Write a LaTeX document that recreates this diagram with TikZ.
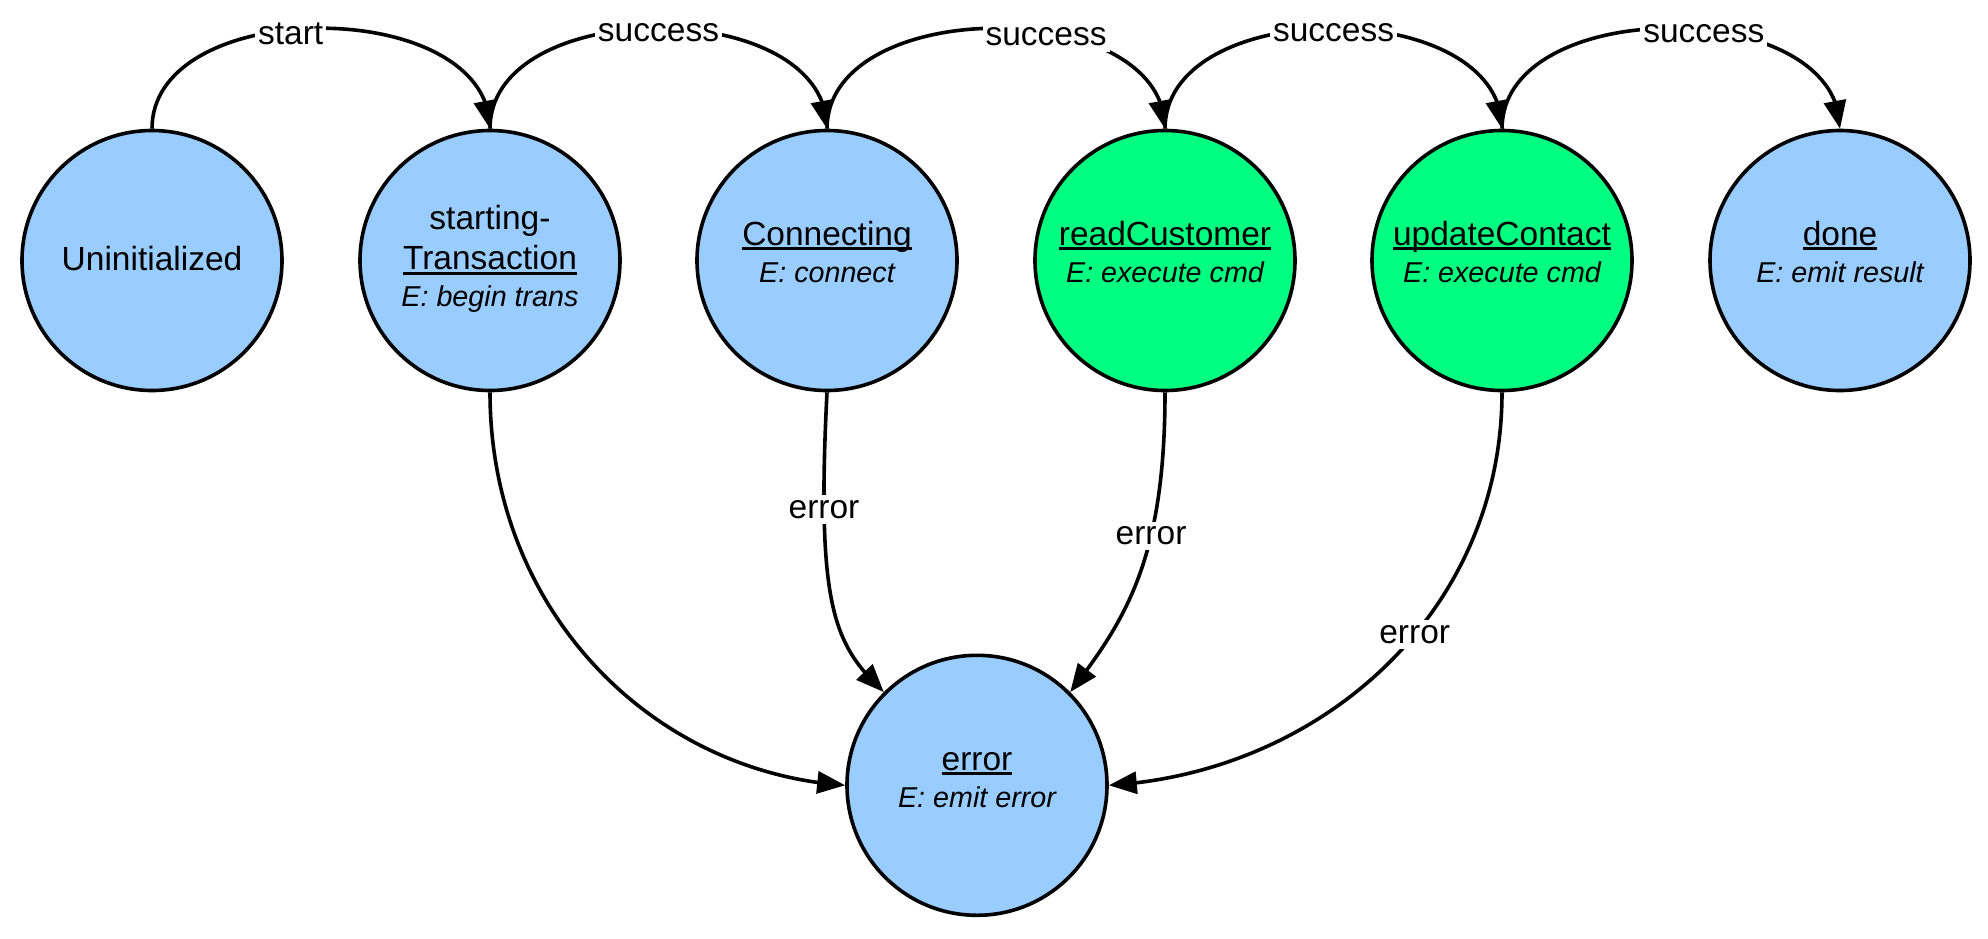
\documentclass[tikz,border=0pt]{standalone}
\usepackage{fontspec}
\setmainfont{Liberation Sans}
\usetikzlibrary{arrows.meta,calc,bending}
\definecolor{stblue}{HTML}{99CCFF}
\definecolor{stgreen}{HTML}{00FF80}
\newsavebox{\myulbox}
\newcommand{\uln}[1]{\sbox{\myulbox}{#1}\rlap{\rule[-2.6pt]{\wd\myulbox}{1.6pt}}\usebox{\myulbox}}
\newcommand{\mainsz}{\fontsize{16.75pt}{20pt}\selectfont}
\newcommand{\actsz}{\fontsize{14.35pt}{18pt}\selectfont\itshape}
\begin{document}
\begin{tikzpicture}[x=0.5pt, y=-0.5pt,
  state/.style={circle, draw=black, line width=1.8pt, minimum size=130pt, inner sep=0pt, fill=stblue},
  hot/.style={state, fill=stgreen},
  nametxt/.style={anchor=base, inner sep=0pt, font=\mainsz},
  acttxt/.style={anchor=base, inner sep=0pt, font=\actsz},
  toplabel/.style={fill=white, inner xsep=1.5pt, inner ysep=3.5pt, font=\mainsz, yshift=-2pt},
  errlabel/.style={fill=white, inner xsep=1.5pt, inner ysep=2.5pt, font=\mainsz},
  trans/.style={line width=1.8pt, -{Triangle[length=14pt, width=11pt, flex]}}]
\path[use as bounding box, fill=white] (0,0) rectangle (1988,938);

% states
\node[state] (uninit) at (152,260.5) {};
\node[state] (st)     at (490,260.5) {};
\node[state] (conn)   at (827,260.5) {};
\node[hot]   (rc)     at (1165,260.5) {};
\node[hot]   (uc)     at (1502,260.5) {};
\node[state] (done)   at (1840,260.5) {};
\node[state] (err)    at (977,785.3) {};

% state texts
\node[nametxt] (uninit-n) at ($(uninit)+(0,9.5)$) {Uninitialized};
\node[nametxt] (st-n1) at ($(st)+(0,-31)$) {starting-};
\node[nametxt] (st-n2) at ($(st)+(0,9)$) {\uln{Transaction}};
\node[acttxt]  (st-a)  at ($(st)+(0,45.5)$) {E: begin trans};
\node[nametxt] (conn-n) at ($(conn)+(0,-15.5)$) {\uln{Connecting}};
\node[acttxt]  (conn-a) at ($(conn)+(0,21.5)$) {E: connect};
\node[nametxt] (rc-n) at ($(rc)+(0,-15.5)$) {\uln{readCustomer}};
\node[acttxt]  (rc-a) at ($(rc)+(0,21.5)$) {E: execute cmd};
\node[nametxt] (uc-n) at ($(uc)+(0,-15.5)$) {\uln{updateContact}};
\node[acttxt]  (uc-a) at ($(uc)+(0,21.5)$) {E: execute cmd};
\node[nametxt] (done-n) at ($(done)+(0,-15.5)$) {\uln{done}};
\node[acttxt]  (done-a) at ($(done)+(0,21.5)$) {E: emit result};
\node[nametxt] (err-n) at ($(err)+(0,-15.3)$) {\uln{error}};
\node[acttxt]  (err-a) at ($(err)+(0,22)$) {E: emit error};

% success chain
\draw[trans] (uninit.north) .. controls +(0,-134) and +(0,-134) .. (st.north)
  node[toplabel, pos=0.44] (l-start) {start};
\draw[trans] (st.north) .. controls +(0,-134) and +(0,-134) .. (conn.north)
  node[toplabel, pos=0.5] (l-s1) {success};
\draw[trans] (conn.north) .. controls +(0,-134) and +(0,-134) .. (rc.north)
  node[toplabel, pos=0.6] (l-s2) {success};
\draw[trans] (rc.north) .. controls +(0,-134) and +(0,-134) .. (uc.north)
  node[toplabel, pos=0.5] (l-s3) {success};
\draw[trans] (uc.north) .. controls +(0,-134) and +(0,-134) .. (done.north)
  node[toplabel, pos=0.565] (l-s4) {success};

% error transitions
\draw[trans] (st.south) .. controls +(0,217) and +(-195,-13) .. (err.west);
\draw[trans] (conn.south) .. controls +(-11,218) and +(-49,-47) .. (err.135)
  node[errlabel, pos=0.215] (l-e1) {error};
\draw[trans] (rc.south) .. controls +(0,168) and +(55,-72) .. (err.45)
  node[errlabel, pos=0.355] (l-e2) {error};
\draw[trans] (uc.south) .. controls +(0,217) and +(216,-13) .. (err.east)
  node[errlabel, pos=0.43] (l-e3) {error};
\end{tikzpicture}
\end{document}
